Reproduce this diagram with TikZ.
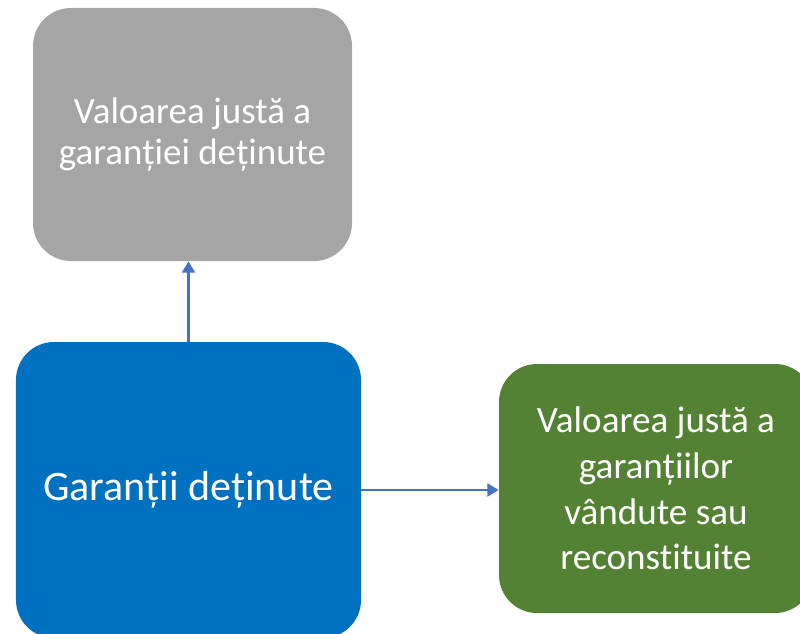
\documentclass[tikz,border=0pt]{standalone}
\usepackage{fontspec}
\setmainfont[RawFeature=-liga]{Carlito}
\usetikzlibrary{positioning,arrows.meta,calc}
\definecolor{BoxGray}{RGB}{165,165,165}
\definecolor{BoxBlue}{RGB}{0,112,192}
\definecolor{BoxGreen}{RGB}{84,130,53}
\definecolor{LinkBlue}{RGB}{68,114,196}

\begin{document}
\begin{tikzpicture}[every node/.style={align=center, text=white},
    card/.style={rounded corners=0.95cm, inner sep=0pt},
    link/.style={LinkBlue, line width=2pt, -{Triangle[length=8pt,width=9pt]}}]
  \useasboundingbox (0,0) rectangle (20,-15.85);
  \node[card, fill=BoxGray, minimum width=7.975cm, minimum height=6.325cm,
        font=\fontsize{26.3}{29.8}\selectfont] (held) at (4.8125,-3.3625)
        {Valoarea justă a\\garanției deținute};
  \node[card, fill=BoxBlue, minimum width=8.625cm, minimum height=7.4cm,
        font=\fontsize{29.9}{36}\selectfont] (coll) at (4.7125,-12.25)
        {Garanții deținute};
  \node[card, fill=BoxGreen, minimum width=7.85cm, minimum height=6.225cm,
        font=\fontsize{26.4}{32.6}\selectfont] (sold) at (16.4,-12.2125)
        {Valoarea justă a\\garanțiilor\\vândute sau\\reconstituite};
  \draw[link] (coll.north) -- (coll.north |- held.south);
  \draw[link] (coll.east) -- (coll.east -| sold.west);
\end{tikzpicture}
\end{document}
